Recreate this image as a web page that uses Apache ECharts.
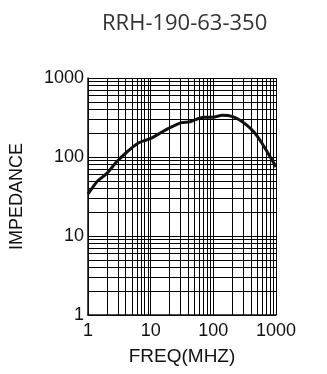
<!DOCTYPE html>
<html><head><meta charset="utf-8">
<script src="https://cdn.jsdelivr.net/npm/echarts@6/dist/echarts.min.js"></script>
<style>html,body{margin:0;padding:0;background:#fff}#c{width:327px;height:374px}</style>
</head><body><div id="c"></div>
<script>
const titleText = 'RRH-190-63-350';
const freq = [1, 1.4, 2, 2.87, 4.1, 6.26, 8.45, 10.7, 15.4, 22, 31, 42.7, 69, 99, 138, 204, 291, 442, 598, 1000];
const impedance = [34, 49, 62, 87, 114, 149, 164, 176, 209, 242, 272, 280, 318, 318, 337, 324, 280, 209, 149, 75];
const decades = [1, 10, 100];
const minorMultipliers = [2, 3, 4, 5, 6, 7, 8, 9];

const minorValues = [];
decades.forEach(d => minorMultipliers.forEach(m => minorValues.push(m * d)));

const lineStyle = {color: '#000', width: 1, type: 'solid'};
const labelFont = 'Liberation Sans, Arial, sans-serif';

const chart = echarts.init(document.getElementById('c'), null, {renderer: 'canvas'});
chart.setOption({
  animation: false,
  title: {
    text: titleText, left: 97, top: 8,
    textStyle: {fontFamily: 'Open Sans, sans-serif', fontSize: 22, fontWeight: 'normal', color: '#333'}
  },
  grid: {left: 84, right: 51, top: 78, bottom: 59, containLabel: false},
  xAxis: {
    type: 'log', logBase: 10, min: 1, max: 1000, interval: 1,
    name: 'FREQ(MHZ)', nameLocation: 'middle', nameGap: 32,
    nameTextStyle: {fontFamily: labelFont, fontSize: 19, color: '#111'},
    axisLine: {show: true, lineStyle: {color: '#111', width: 1.5}},
    axisTick: {show: false},
    axisLabel: {fontFamily: labelFont, fontSize: 18, color: '#111', margin: 7, formatter: v => String(Math.round(v))},
    splitLine: {show: true, lineStyle: lineStyle}
  },
  yAxis: {
    type: 'log', logBase: 10, min: 1, max: 1000, interval: 1,
    name: 'IMPEDANCE', nameLocation: 'middle', nameRotate: 90, nameGap: 62,
    nameTextStyle: {fontFamily: labelFont, fontSize: 18, color: '#111'},
    axisLine: {show: true, lineStyle: {color: '#111', width: 1.5}},
    axisTick: {show: false},
    axisLabel: {fontFamily: labelFont, fontSize: 18, color: '#111', margin: 4, formatter: v => String(Math.round(v))},
    splitLine: {show: true, lineStyle: lineStyle}
  },
  series: [
    {
      type: 'line', silent: true, data: [], symbol: 'none',
      markLine: {
        silent: true, symbol: 'none', label: {show: false},
        lineStyle: lineStyle,
        data: minorValues.map(v => ({xAxis: v})).concat(minorValues.map(v => ({yAxis: v})))
      }
    },
    {
      type: 'line', symbol: 'none', smooth: 0.2,
      lineStyle: {color: '#111', width: 3},
      data: freq.map((f, i) => [f, impedance[i]]),
      z: 5
    }
  ]
});
</script></body></html>
